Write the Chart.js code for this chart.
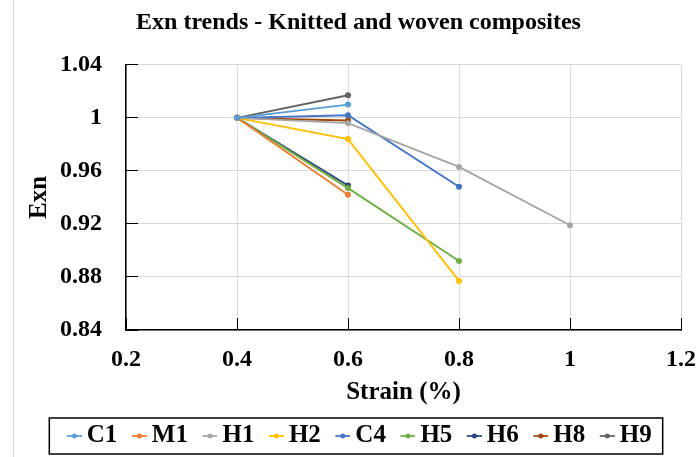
<!DOCTYPE html>
<html>
<head>
<meta charset="utf-8">
<script src="https://cdn.jsdelivr.net/npm/chart.js@4"></script>
<style>
  html, body { margin: 0; padding: 0; background: #fff; }
  #wrap { width: 696px; height: 457px; }
</style>
</head>
<body>
<div id="wrap"><canvas id="chart"></canvas></div>
<script>
// Chart data
const strain = [0.4, 0.6, 0.8, 1.0];
const xTicks = [0.2, 0.4, 0.6, 0.8, 1, 1.2];
const yTicks = [0.84, 0.88, 0.92, 0.96, 1, 1.04];

const seriesNames = ['C1', 'M1', 'H1', 'H2', 'C4', 'H5', 'H6', 'H8', 'H9'];
const C1 = [1, 1.010];
const M1 = [1, 0.942];
const H1 = [1, 0.996, 0.963, 0.919];
const H2 = [1, 0.984, 0.877];
const C4 = [1, 1.002, 0.948];
const H5 = [1, 0.947, 0.892];
const H6 = [1, 0.949];
const H8 = [1, 0.998];
const H9 = [1, 1.017];
const seriesValues = [C1, M1, H1, H2, C4, H5, H6, H8, H9];
const seriesColors = ['#5B9BD5', '#ED7D31', '#A5A5A5', '#FFC000', '#4472C4', '#70AD47', '#264478', '#9E480E', '#636363'];

Chart.defaults.font.family = "'Liberation Serif', 'Times New Roman', serif";
Chart.defaults.font.weight = 'bold';
Chart.defaults.color = '#000';

// small line + dot image used as legend marker
function legendMarker(color) {
    const c = document.createElement('canvas');
    c.width = 24;
    c.height = 8;
    const g = c.getContext('2d');
    g.strokeStyle = color;
    g.lineWidth = 1.75;
    g.beginPath();
    g.moveTo(9, 4);
    g.lineTo(24, 4);
    g.stroke();
    g.fillStyle = color;
    g.beginPath();
    g.arc(16.5, 4, 2.5, 0, Math.PI * 2);
    g.fill();
    return c;
}

const markers = seriesColors.map(legendMarker);

const datasets = seriesNames.map((name, i) => ({
    label: name,
    data: seriesValues[i].map((v, j) => ({ x: strain[j], y: v })),
    borderColor: seriesColors[i],
    backgroundColor: seriesColors[i],
    borderWidth: 1.9,
    pointRadius: 3,
    pointHoverRadius: 3,
    pointBorderWidth: 0,
    tension: 0
}));

// light border at the left edge + frame around the legend
const decorPlugin = {
    id: 'decor',
    beforeDraw(chart) {
        const ctx = chart.ctx;
        ctx.save();
        ctx.strokeStyle = '#d9d9d9';
        ctx.lineWidth = 1;
        ctx.beginPath();
        ctx.moveTo(13.5, 0);
        ctx.lineTo(13.5, chart.height);
        ctx.stroke();
        ctx.restore();
    },
    afterDraw(chart) {
        const hb = chart.legend.legendHitBoxes;
        if (!hb || !hb.length) return;
        const first = hb[0];
        const last = hb[hb.length - 1];
        const left = first.left - 16;
        const right = last.left + last.width + 11;
        const mid = first.top + first.height / 2;
        const ctx = chart.ctx;
        ctx.save();
        ctx.strokeStyle = '#000';
        ctx.lineWidth = 1.5;
        ctx.strokeRect(left, mid - 18, right - left, 36);
        ctx.restore();
    }
};

new Chart(document.getElementById('chart'), {
    type: 'line',
    data: { datasets: datasets },
    plugins: [decorPlugin],
    options: {
        responsive: true,
        maintainAspectRatio: false,
        animation: false,
        layout: { padding: { left: 21, right: 0, top: 0, bottom: 0 } },
        plugins: {
            title: {
                display: true,
                text: 'Exn trends - Knitted and woven composites',
                font: { size: 24, weight: 'bold' },
                color: '#000',
                padding: { top: 8, bottom: 28 }
            },
            legend: {
                display: true,
                position: 'bottom',
                maxHeight: 46.5,
                labels: {
                    usePointStyle: true,
                    pointStyleWidth: 9,
                    padding: 13,
                    font: { size: 25, weight: 'bold' },
                    color: '#000',
                    generateLabels(chart) {
                        const items = Chart.defaults.plugins.legend.labels.generateLabels(chart);
                        items.forEach(item => { item.pointStyle = markers[item.datasetIndex]; });
                        return items;
                    }
                }
            },
            tooltip: { enabled: false }
        },
        scales: {
            x: {
                type: 'linear',
                min: 0.2,
                max: 1.2,
                afterBuildTicks(scale) { scale.ticks = xTicks.map(v => ({ value: v })); },
                afterFit(scale) {
                    scale.height = 80.5;
                    scale.paddingRight = 15;
                    scale.paddingLeft = 15;
                },
                ticks: {
                    font: { size: 24, weight: 'bold' },
                    color: '#000',
                    padding: 27,
                    callback: v => String(v)
                },
                grid: { color: '#d9d9d9', lineWidth: 1, tickLength: -12, tickColor: '#000', tickWidth: 1 },
                border: { color: '#000', width: 1.5 },
                title: {
                    display: true,
                    text: 'Strain (%)',
                    font: { size: 25, weight: 'bold' },
                    color: '#000',
                    padding: { top: 0, bottom: 3 }
                }
            },
            y: {
                type: 'linear',
                min: 0.84,
                max: 1.04,
                afterBuildTicks(scale) { scale.ticks = yTicks.map(v => ({ value: v })); },
                afterFit(scale) { scale.width = 105; },
                ticks: {
                    font: { size: 24, weight: 'bold' },
                    color: '#000',
                    padding: 36,
                    callback: v => String(v)
                },
                grid: { color: '#d9d9d9', lineWidth: 1, tickLength: -12, tickColor: '#000', tickWidth: 1 },
                border: { color: '#000', width: 1.5 },
                title: {
                    display: true,
                    text: 'Exn',
                    font: { size: 25, weight: 'bold' },
                    color: '#000',
                    padding: { top: 4, bottom: 4 }
                }
            }
        }
    }
});
</script>
</body>
</html>
